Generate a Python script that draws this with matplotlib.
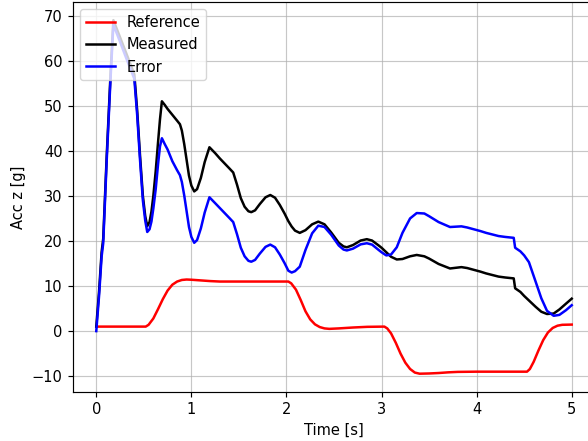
import matplotlib
matplotlib.use("Agg")
import matplotlib.pyplot as plt

# Reference signal
ref_time = [0.0, 0.52, 0.55, 0.6, 0.65, 0.7, 0.75, 0.8, 0.85, 0.9, 0.95, 1.0, 1.1, 1.2, 1.3,
            2.02, 2.05, 2.1, 2.15, 2.2, 2.25, 2.3, 2.35, 2.4, 2.45, 2.55, 2.7, 2.85, 3.03,
            3.06, 3.1, 3.15, 3.2, 3.25, 3.3, 3.35, 3.4, 3.5, 3.6, 3.7, 3.8, 4.0, 4.53,
            4.56, 4.6, 4.65, 4.7, 4.75, 4.8, 4.85, 4.9, 5.0]
ref_acc = [1.0, 1.0, 1.4, 2.8, 4.9, 7.1, 9.0, 10.3, 11.0, 11.35, 11.45, 11.4, 11.25, 11.1, 11.0,
           11.0, 10.6, 9.2, 6.9, 4.4, 2.6, 1.5, 0.9, 0.6, 0.5, 0.6, 0.8, 0.95, 1.0,
           0.6, -0.5, -2.6, -5.0, -7.0, -8.4, -9.2, -9.45, -9.4, -9.3, -9.15, -9.05, -9.0, -9.0,
           -8.4, -6.8, -4.3, -2.0, -0.3, 0.7, 1.2, 1.4, 1.45]

# Measured signal and error share one time base
time = [0.0, 0.03, 0.056, 0.073, 0.11, 0.15, 0.18, 0.25, 0.32, 0.40, 0.43, 0.46, 0.49, 0.515,
        0.536, 0.56, 0.58, 0.6, 0.625, 0.65, 0.67, 0.69, 0.72, 0.75, 0.8, 0.85, 0.88, 0.9,
        0.925, 0.95, 0.975, 1.0, 1.03, 1.06, 1.1, 1.14, 1.19, 1.25, 1.3, 1.35, 1.4, 1.44,
        1.48, 1.52, 1.56, 1.6, 1.63, 1.67, 1.72, 1.78, 1.83, 1.88, 1.93, 1.98, 2.02, 2.055,
        2.09, 2.14, 2.2, 2.27, 2.335, 2.4, 2.47, 2.55, 2.6, 2.635, 2.7, 2.78, 2.845, 2.9,
        2.97, 3.0, 3.05, 3.1, 3.16, 3.22, 3.3, 3.37, 3.45, 3.5, 3.6, 3.72, 3.84, 3.9, 4.04,
        4.1, 4.23, 4.3, 4.39, 4.405, 4.46, 4.5, 4.55, 4.62, 4.68, 4.74, 4.81, 4.87, 4.94, 5.0]
measured = [1.0, 9.0, 17.5, 20.5, 39.0, 57.0, 69.0, 65.2, 61.4, 57.0, 49.0, 39.0, 30.0, 25.5,
            23.3, 24.2, 26.5, 30.0, 35.5, 42.0, 47.0, 51.0, 50.2, 49.3, 48.0, 46.7, 45.9, 44.5,
            41.5, 38.0, 34.5, 32.3, 31.0, 31.5, 34.0, 37.5, 40.8, 39.5, 38.3, 37.2, 36.1, 35.2,
            32.5, 29.5, 27.6, 26.6, 26.4, 26.8, 28.2, 29.7, 30.2, 29.6, 28.0, 26.1, 24.4, 23.2,
            22.3, 21.8, 22.4, 23.7, 24.3, 23.7, 21.9, 19.6, 18.8, 18.6, 19.1, 20.1, 20.4, 20.1,
            19.0, 18.5, 17.5, 16.5, 15.9, 16.0, 16.6, 16.9, 16.6, 16.1, 14.9, 13.9, 14.2, 14.0, 13.2,
            12.8, 12.1, 11.9, 11.7, 9.5, 8.7, 7.8, 6.8, 5.4, 4.3, 3.8, 3.9, 4.8, 6.1, 7.2]
error = [0.0, 8.0, 16.5, 19.5, 38.0, 56.0, 68.0, 64.2, 60.3, 56.0, 48.0, 38.0, 29.0, 24.5,
         22.0, 22.6, 24.3, 27.2, 31.5, 37.1, 41.0, 42.8, 41.5, 40.3, 37.7, 35.7, 34.6, 33.1,
         30.1, 26.6, 23.1, 20.9, 19.6, 20.2, 22.8, 26.3, 29.7, 28.4, 27.3, 26.2, 25.1, 24.2,
         21.5, 18.5, 16.6, 15.6, 15.4, 15.8, 17.2, 18.7, 19.2, 18.6, 17.0, 15.1, 13.4, 13.0,
         13.3, 14.3, 18.0, 21.7, 23.4, 23.1, 21.4, 19.0, 18.1, 17.9, 18.3, 19.25, 19.5, 19.2,
         18.0, 17.5, 16.8, 17.0, 18.6, 21.8, 25.0, 26.2, 26.1, 25.5, 24.2, 23.1, 23.25, 23.0, 22.2,
         21.8, 21.1, 20.9, 20.7, 18.5, 17.7, 16.8, 15.3, 11.0, 7.3, 4.5, 3.4, 3.6, 4.65, 5.75]

scale = 1.056
plt.rcParams['font.size'] = 10 * scale

fig = plt.figure(figsize=(5.88, 4.41), dpi=100)
ax = fig.add_axes([72.5 / 588, (441 - 392.4) / 441, (595.5 - 72.5) / 588, (392.4 - 1.7) / 441])

lw = 1.8
ax.plot(ref_time, ref_acc, color='r', lw=lw, label='Reference')
ax.plot(time, measured, color='k', lw=lw, label='Measured')
ax.plot(time, error, color='b', lw=lw, label='Error')

ax.set_xlim(-0.25, 5.25)
ax.set_ylim(-13.6, 73.1)
ax.set_xticks([0, 1, 2, 3, 4, 5])
ax.set_yticks([-10, 0, 10, 20, 30, 40, 50, 60, 70])
ax.grid(True, color='#b0b0b0', lw=0.8 * scale, alpha=0.7)
for s in ax.spines.values():
    s.set_linewidth(0.8 * scale)
ax.tick_params(width=0.8 * scale, length=3.5 * scale)
ax.set_xlabel('Time [s]')
ax.set_ylabel('Acc z [g]')
ax.legend(loc='upper left')

fig.savefig('out.png', dpi=100)
